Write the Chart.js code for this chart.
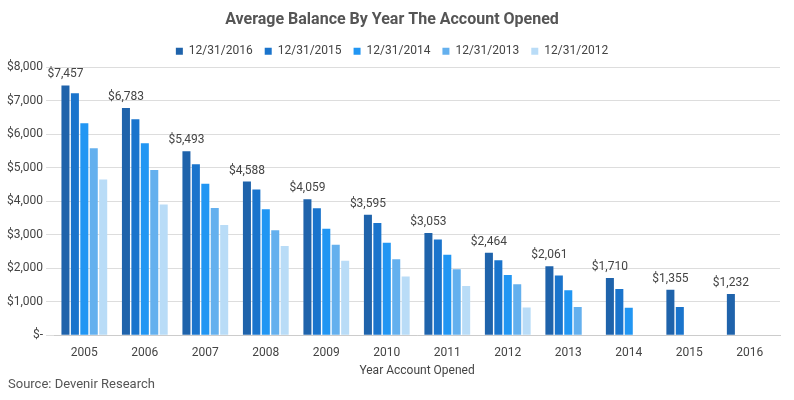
<!DOCTYPE html>
<html>
<head>
<meta charset="utf-8">
<script src="https://cdn.jsdelivr.net/npm/chart.js@4/dist/chart.umd.min.js"></script>
<style>
  body { margin: 0; background: #fff; font-family: Roboto, sans-serif; }
  #wrap { position: relative; width: 794px; height: 400px; }
  #source { position: absolute; left: 8px; top: 376px; font-size: 13px; color: #555; }
</style>
</head>
<body>
<div id="wrap">
  <canvas id="balanceChart" width="794" height="378"></canvas>
  <div id="source">Source: Devenir Research</div>
</div>
<script>
// dati
const years = ['2005', '2006', '2007', '2008', '2009', '2010', '2011', '2012', '2013', '2014', '2015', '2016'];
const seriesNames = ['12/31/2016', '12/31/2015', '12/31/2014', '12/31/2013', '12/31/2012'];
const bal2016 = [7457, 6783, 5493, 4588, 4059, 3595, 3053, 2464, 2061, 1710, 1355, 1232];
const bal2015 = [7220, 6450, 5100, 4350, 3790, 3350, 2860, 2240, 1780, 1380, 840, null];
const bal2014 = [6330, 5730, 4520, 3760, 3180, 2760, 2400, 1800, 1340, 820, null, null];
const bal2013 = [5580, 4930, 3800, 3130, 2700, 2270, 1970, 1520, 840, null, null, null];
const bal2012 = [4650, 3900, 3290, 2660, 2220, 1750, 1470, 830, null, null, null, null];
const colors = ['#1f63ab', '#1a74cc', '#2196f3', '#64b0ee', '#b9dcf7'];

const fmt = v => '$' + v.toLocaleString('en-US');

// etichette solo sulla prima serie
const topLabels = {
    id: 'topLabels',
    afterDatasetsDraw(chart) {
        const ctx = chart.ctx;
        const meta = chart.getDatasetMeta(0);
        ctx.save();
        ctx.font = '12px Roboto';
        ctx.fillStyle = '#444';
        ctx.textAlign = 'center';
        ctx.textBaseline = 'bottom';
        meta.data.forEach((bar, i) => {
            ctx.fillText(fmt(bal2016[i]), bar.x, bar.y - 5);
        });
        ctx.restore();
    }
};

const ctx = document.getElementById('balanceChart').getContext('2d');
new Chart(ctx, {
    type: 'bar',
    data: {
        labels: years,
        datasets: [bal2016, bal2015, bal2014, bal2013, bal2012].map((d, i) => ({
            label: seriesNames[i],
            data: d,
            backgroundColor: colors[i],
            categoryPercentage: 0.78,
            barPercentage: 0.85
        }))
    },
    options: {
        animation: false,
        responsive: false,
        layout: { padding: { left: 4, right: 14, top: 0 } },
        plugins: {
            title: {
                display: true,
                text: 'Average Balance By Year The Account Opened',
                color: '#555',
                font: { family: 'Roboto', size: 16, weight: 'bold' },
                padding: { top: 10, bottom: 4 }
            },
            legend: {
                labels: {
                    boxWidth: 7, boxHeight: 7, color: '#444',
                    font: { family: 'Roboto', size: 12 },
                    padding: 12
                }
            },
            tooltip: { enabled: false }
        },
        scales: {
            x: {
                grid: { display: false },
                border: { color: '#ccc' },
                ticks: { color: '#444', font: { family: 'Roboto', size: 12 } },
                title: { display: true, text: 'Year Account Opened', color: '#444', font: { family: 'Roboto', size: 12 }, padding: 0 }
            },
            y: {
                min: 0, max: 8000,
                grid: { color: '#ddd' },
                border: { display: false },
                ticks: {
                    stepSize: 1000, color: '#444', font: { family: 'Roboto', size: 12 },
                    callback: v => v === 0 ? '$-' : fmt(v)
                }
            }
        }
    },
    plugins: [topLabels]
});
</script>
</body>
</html>
